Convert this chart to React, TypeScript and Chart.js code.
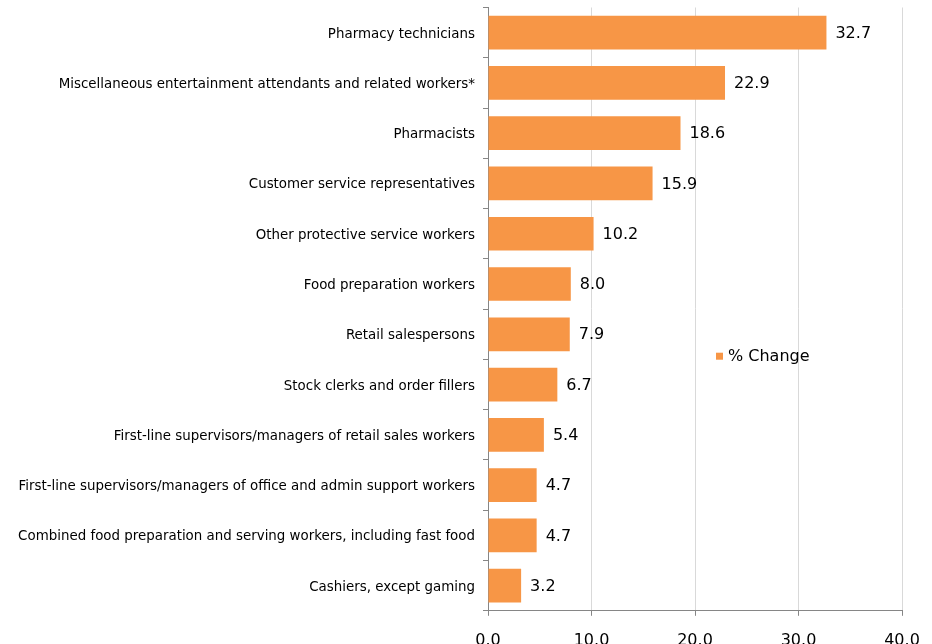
import { useEffect, useRef } from "react";
import { Chart, registerables } from "chart.js";

Chart.register(...registerables);

const categories: string[] = [
  "Pharmacy technicians",
  "Miscellaneous entertainment attendants and related workers*",
  "Pharmacists",
  "Customer service representatives",
  "Other protective service workers",
  "Food preparation workers",
  "Retail salespersons",
  "Stock clerks and order fillers",
  "First-line supervisors/managers of retail sales workers",
  "First-line supervisors/managers of office and admin support workers",
  "Combined food preparation and serving workers, including fast food",
  "Cashiers, except gaming",
];

const values: number[] = [32.7, 22.9, 18.6, 15.9, 10.2, 8.0, 7.9, 6.7, 5.4, 4.7, 4.7, 3.2];

const xTicks: number[] = [0, 10, 20, 30, 40];

const seriesLabel = "% Change";

const FONT = "'DejaVu Sans', Verdana, sans-serif";
const BAR_COLOR = "#F79646";
const AXIS_COLOR = "#868686";
const GRID_COLOR = "#D9D9D9";

const valueLabelPlugin = {
  id: "valueLabels",
  afterDatasetsDraw(chart: any) {
    const ctx = chart.ctx;
    const meta = chart.getDatasetMeta(0);
    ctx.save();
    ctx.font = `16px ${FONT}`;
    ctx.fillStyle = "#000000";
    ctx.textAlign = "left";
    ctx.textBaseline = "middle";
    meta.data.forEach((bar: any, i: number) => {
      ctx.fillText(values[i].toFixed(1), bar.x + 9, bar.y + 1);
    });
    ctx.restore();
  },
};

const customLegendPlugin = {
  id: "customLegend",
  afterDraw(chart: any) {
    const ctx = chart.ctx;
    const area = chart.chartArea;
    const x = area.left + 228;
    const y = area.top + (area.bottom - area.top) * 0.578;
    ctx.save();
    ctx.fillStyle = BAR_COLOR;
    ctx.fillRect(x, y - 3.5, 7, 7);
    ctx.font = `16px ${FONT}`;
    ctx.fillStyle = "#000000";
    ctx.textAlign = "left";
    ctx.textBaseline = "middle";
    ctx.fillText(chart.data.datasets[0].label, x + 12, y + 1);
    ctx.restore();
  },
};

export default function App() {
  const canvasRef = useRef<HTMLCanvasElement | null>(null);

  useEffect(() => {
    if (!canvasRef.current) return;
    const chart = new Chart(canvasRef.current, {
      type: "bar",
      data: {
        labels: categories,
        datasets: [
          {
            label: seriesLabel,
            data: values,
            backgroundColor: BAR_COLOR,
            borderWidth: 0,
            barPercentage: 0.67,
            categoryPercentage: 1,
          },
        ],
      },
      options: {
        indexAxis: "y",
        responsive: false,
        animation: false,
        devicePixelRatio: 1,
        layout: { padding: { top: 7.5, right: 30, bottom: 10, left: 0 } },
        plugins: {
          legend: { display: false },
          tooltip: { enabled: false },
        },
        scales: {
          x: {
            type: "linear",
            min: 0,
            max: 40,
            afterBuildTicks: (scale: any) => {
              scale.ticks = xTicks.map((v) => ({ value: v }));
            },
            afterFit: (scale: any) => {
              scale.paddingRight = 0;
              scale.paddingLeft = 0;
            },
            ticks: {
              callback: (v: any) => Number(v).toFixed(1),
              font: { family: FONT, size: 16 },
              color: "#000000",
              padding: 15,
              maxRotation: 0,
            },
            grid: {
              color: GRID_COLOR,
              tickColor: AXIS_COLOR,
              tickLength: 5,
              lineWidth: 1,
            },
            border: { color: AXIS_COLOR, width: 1 },
          },
          y: {
            type: "category",
            afterFit: (scale: any) => {
              scale.width = 488;
              scale.paddingTop = 0;
              scale.paddingBottom = 0;
            },
            ticks: {
              font: { family: FONT, size: 13.4 },
              color: "#000000",
              padding: 8,
              autoSkip: false,
              labelOffset: 1.5,
            },
            grid: {
              drawOnChartArea: false,
              drawTicks: true,
              tickLength: 5,
              tickColor: AXIS_COLOR,
              offset: true,
            },
            border: { color: AXIS_COLOR, width: 1 },
          },
        },
      },
      plugins: [valueLabelPlugin, customLegendPlugin],
    });
    return () => chart.destroy();
  }, []);

  return (
    <div
      style={{
        position: "absolute",
        left: 0,
        top: 0,
        width: 932,
        height: 644,
        overflow: "hidden",
        background: "#ffffff",
      }}
    >
      <canvas
        ref={canvasRef}
        width={932}
        height={675}
        style={{ display: "block", width: 932, height: 675 }}
      />
    </div>
  );
}
